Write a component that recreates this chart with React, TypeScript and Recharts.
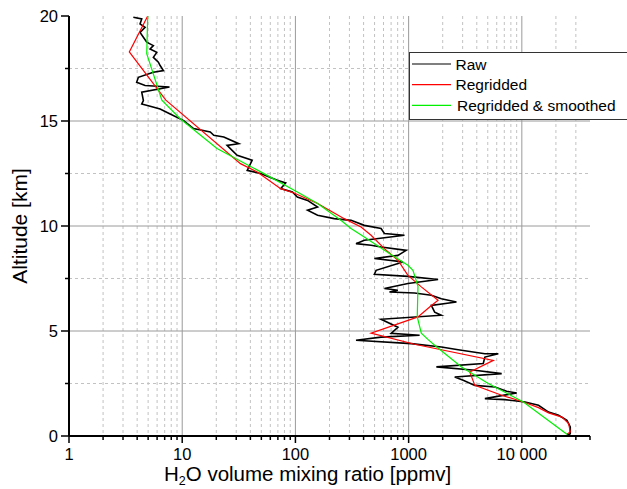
import React from 'react'
import { LineChart, Line, XAxis, YAxis, CartesianGrid } from 'recharts'

const FONT = '"Liberation Sans", Arial, sans-serif'

// raw sonde profile (altitude km, H2O ppmv)
const rawAlt = [
  19.94, 19.86, 19.62, 19.46, 19.22, 18.99, 18.75, 18.59, 18.43, 18.27, 18.03, 17.8, 17.64, 17.4, 17.32, 17.08,
  16.84, 16.69, 16.62, 16.37, 15.97, 15.81, 15.73, 15.57, 15.33, 15.02, 14.64, 14.48, 14.32, 14.24, 13.92, 13.84,
  13.6, 13.37, 13.13, 12.65, 12.5, 12.18, 12.05, 11.78, 11.62, 11.38, 11.22, 10.9, 10.75, 10.51, 10.35, 10.27,
  10.03, 9.88, 9.64, 9.56, 9.32, 9.16, 9.08, 9.0, 8.84, 8.6, 8.45, 8.29, 7.89, 7.7, 7.6, 7.45, 7.26, 7.02, 6.94,
  6.86, 6.81, 6.7, 6.54, 6.38, 6.22, 5.9, 5.75, 5.56, 5.18, 4.89, 4.8, 4.71, 4.56, 4.4, 4.24, 4.11, 3.92, 3.92,
  3.76, 3.45, 3.29, 3.13, 2.97, 2.81, 2.65, 2.41, 2.33, 2.13, 2.05, 1.78, 1.73, 1.62, 1.46, 1.14, 0.99, 0.75,
  0.43, 0.11, 0.03,
]
const rawPpmv = [
  3.7, 4.39, 4.24, 4.7, 4.24, 4.54, 4.86, 5.56, 5.2, 5.96, 5.56, 6.16, 6.38, 6.82, 5.56, 4.1,
  3.96, 4.7, 7.72, 4.39, 4.54, 4.39, 5.02, 6.38, 7.83, 10.3, 12.6, 17.7, 19, 23.3, 31.6, 24.9,
  27.6, 30.6, 41.5, 37.5, 49.2, 69.2, 82, 74.1, 94.1, 104, 128, 157, 128, 157, 220, 310,
  406, 571, 611, 919, 406, 343, 466, 571, 952, 804, 498, 890, 516, 498, 986, 1820, 986, 611, 804,
  677, 1128, 1587, 1946, 2645, 1587, 1698, 1946, 571, 804, 701, 1250, 571, 343, 1055, 1946, 2739, 4716, 6200,
  4716, 4563, 1758, 3845, 6634, 2554, 3033, 3845, 5784, 7345, 9015, 4716, 7096, 10670, 14030, 17220, 21130, 25020,
  26770, 26770, 25020,
]

const regridAlt = [
  20.0, 18.29, 15.99, 12.97, 12.57, 11.78, 11.57, 11.07, 10.35, 9.95, 9.56, 8.92, 8.37, 7.65, 7.1, 6.46,
  6.14, 5.67, 4.9, 4.37, 3.6, 3.05, 2.41, 1.94, 1.62, 1.35, 1.1, 0.9, 0.59, 0.19, 0.08,
]
const regridPpmv = [
  4.96, 3.41, 7.17, 32.7, 46, 74.1, 97.2, 157, 270, 380, 466, 611, 804, 986, 1294, 1820,
  1533, 1209, 466, 1128, 5597, 3469, 3845, 6634, 10330, 14030, 17220, 22600, 25920, 26770, 25020,
]

const smoothAlt = [
  20.0, 18.21, 15.99, 15.11, 13.69, 12.41, 11.62, 11.07, 10.27, 9.88, 9.48, 8.69, 8.13, 7.89, 7.13, 5.67,
  4.9, 4.6, 4.32, 3.29, 2.5, 1.62, 0.08,
]
const smoothPpmv = [
  4.96, 4.86, 6.61, 9.6, 20.3, 56.4, 104, 157, 252, 310, 406, 677, 986, 1092, 1209, 1192,
  1294, 1480, 1698, 2929, 5052, 10330, 25020,
]

const seriesNames = ['Raw', 'Regridded', 'Regridded & smoothed']
const seriesColors = ['#000000', '#ff0000', '#00f000']

const xMajor = [1, 10, 100, 1000, 10000]
const xMajorLabels = ['1', '10', '100', '1000', '10 000']
const yMajor = [0, 5, 10, 15, 20]
const yMajorLabels = ['0', '5', '10', '15', '20']
const yMinor = [2.5, 7.5, 12.5, 17.5]

const X_MAX = 40000
const xMinor: number[] = []
for (const d of xMajor) {
  for (let k = 2; k <= 9; k++) {
    if (d * k <= X_MAX) xMinor.push(d * k)
  }
}

const zip = (alt: number[], ppmv: number[]) => alt.map((a, i) => ({ ppmv: ppmv[i], alt: a }))
const rawData = zip(rawAlt, rawPpmv)
const regridData = zip(regridAlt, regridPpmv)
const smoothData = zip(smoothAlt, smoothPpmv)

function XTick(props: any) {
  const { x, y, payload } = props
  const i = xMajor.indexOf(payload.value)
  return (
    <g>
      <line x1={x} x2={x} y1={y} y2={y + (i >= 0 ? 7 : 4)} stroke="#000" strokeWidth={1.5} />
      {i >= 0 && (
        <text x={x} y={y + 24} textAnchor="middle" fontSize={16.5} fontFamily={FONT} fill="#000">
          {xMajorLabels[i]}
        </text>
      )}
    </g>
  )
}

function YTick(props: any) {
  const { x, y, payload } = props
  const i = yMajor.indexOf(payload.value)
  return (
    <g>
      <line x1={x - (i >= 0 ? 8 : 4)} x2={x} y1={y} y2={y} stroke="#000" strokeWidth={1.5} />
      {i >= 0 && (
        <text x={x - 11} y={y + 6} textAnchor="end" fontSize={16.5} fontFamily={FONT} fill="#000">
          {yMajorLabels[i]}
        </text>
      )}
    </g>
  )
}

export default function App() {
  return (
    <div style={{ position: 'absolute', left: 0, top: 0, width: 627, height: 489, overflow: 'hidden', background: '#fff' }}>
      <LineChart width={627} height={489} margin={{ top: 16, right: 37, bottom: 0, left: 0 }}>
        <CartesianGrid
          verticalValues={xMinor.filter((v) => v < X_MAX)}
          horizontalValues={yMinor}
          stroke="#c2c2c2"
          strokeDasharray="3 3"
        />
        <CartesianGrid verticalValues={xMajor.slice(1)} horizontalValues={[5, 10, 15]} stroke="#9a9a9a" />
        <XAxis
          dataKey="ppmv"
          type="number"
          scale="log"
          domain={[1, X_MAX]}
          allowDataOverflow
          ticks={[...xMajor, ...xMinor]}
          interval={0}
          tickSize={0}
          tickMargin={0}
          tickLine={false}
          height={53}
          axisLine={{ stroke: '#000', strokeWidth: 2 }}
          tick={<XTick />}
          label={{
            content: () => (
              <text x={164} y={481} fontSize={20.5} fontFamily={FONT} fill="#000">
                H<tspan dy={4} fontSize={12.5}>2</tspan>
                <tspan dy={-4}>O volume mixing ratio [ppmv]</tspan>
              </text>
            ),
          }}
        />
        <YAxis
          dataKey="alt"
          type="number"
          domain={[0, 20]}
          allowDataOverflow
          ticks={[...yMajor, ...yMinor]}
          interval={0}
          tickSize={0}
          tickMargin={0}
          tickLine={false}
          width={69}
          axisLine={{ stroke: '#000', strokeWidth: 2 }}
          tick={<YTick />}
          label={{
            content: () => (
              <text x={27} y={226} transform="rotate(-90 27 226)" textAnchor="middle" fontSize={21} fontFamily={FONT} fill="#000">
                Altitude [km]
              </text>
            ),
          }}
        />
        <Line data={rawData} dataKey="alt" name={seriesNames[0]} stroke={seriesColors[0]} strokeWidth={1.6} dot={false} type="linear" isAnimationActive={false} />
        <Line data={regridData} dataKey="alt" name={seriesNames[1]} stroke={seriesColors[1]} strokeWidth={1.2} dot={false} type="linear" isAnimationActive={false} />
        <Line data={smoothData} dataKey="alt" name={seriesNames[2]} stroke={seriesColors[2]} strokeWidth={1.2} dot={false} type="linear" isAnimationActive={false} />
      </LineChart>
      <div
        style={{
          position: 'absolute',
          left: 409,
          top: 52,
          width: 230,
          height: 66,
          border: '1.5px solid #333',
          background: '#fff',
        }}
      >
        <svg width={230} height={66}>
          {seriesNames.map((n, i) => (
            <g key={n}>
              <line x1={2} x2={41} y1={11 + i * 20.7} y2={11 + i * 20.7} stroke={seriesColors[i]} strokeWidth={1.2} />
              <text x={i === 2 ? 47 : 45.5} y={16.5 + i * 20.7} fontSize={15.5} fontFamily={FONT} fill="#000">
                {n}
              </text>
            </g>
          ))}
        </svg>
      </div>
    </div>
  )
}
